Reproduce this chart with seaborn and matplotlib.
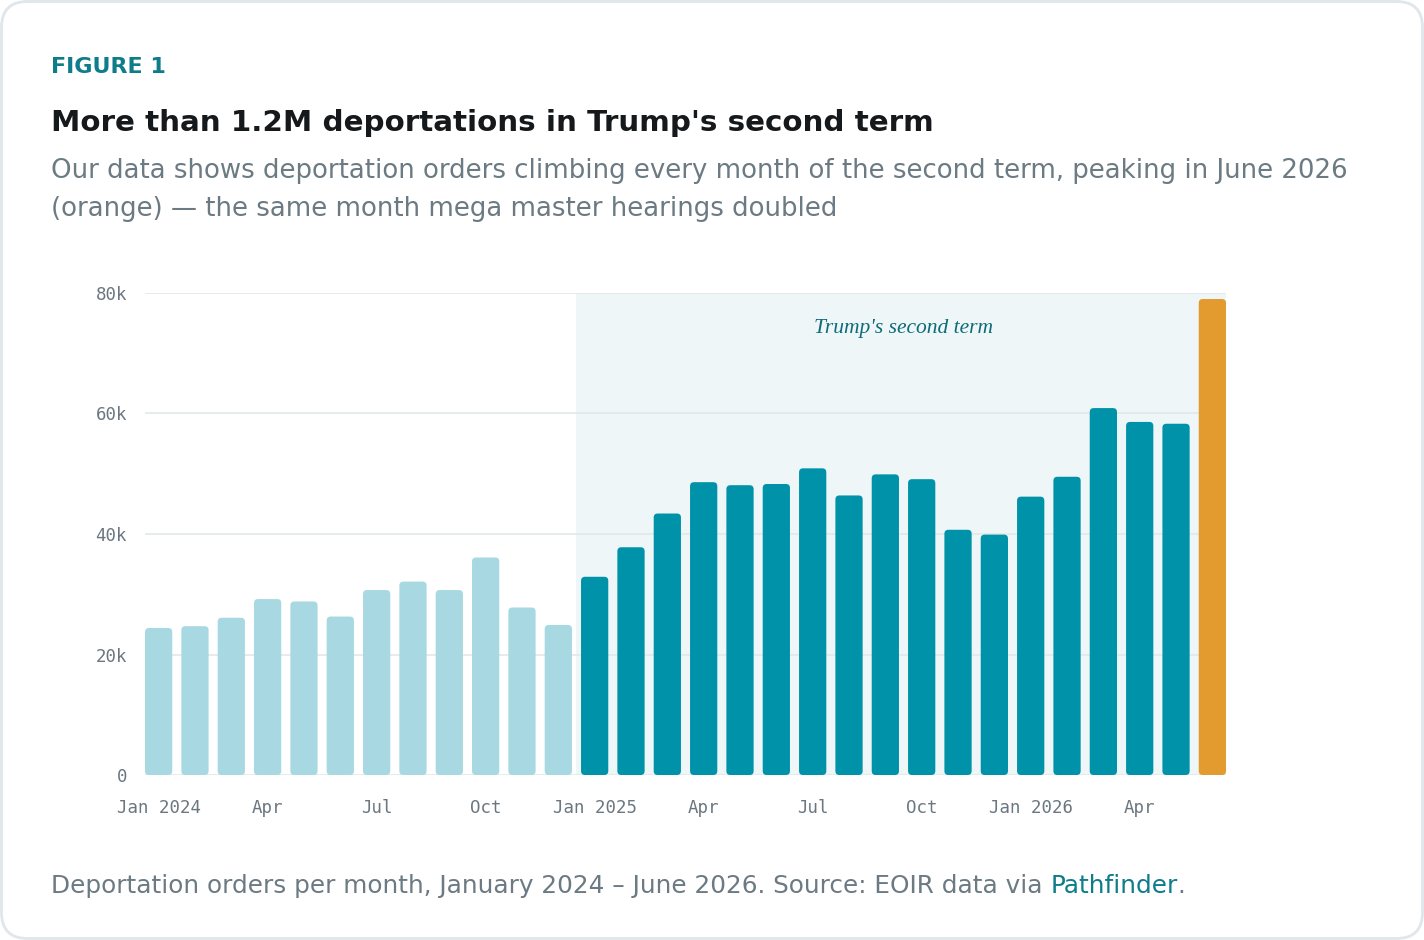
import numpy as np
import pandas as pd
import matplotlib
matplotlib.use("Agg")
import matplotlib.pyplot as plt
from matplotlib.patches import FancyBboxPatch
import seaborn as sns

# Monthly deportation orders, Jan 2024 - Jun 2026
months = [
    "Jan 2024", "Feb 2024", "Mar 2024", "Apr 2024", "May 2024", "Jun 2024",
    "Jul 2024", "Aug 2024", "Sep 2024", "Oct 2024", "Nov 2024", "Dec 2024",
    "Jan 2025", "Feb 2025", "Mar 2025", "Apr 2025", "May 2025", "Jun 2025",
    "Jul 2025", "Aug 2025", "Sep 2025", "Oct 2025", "Nov 2025", "Dec 2025",
    "Jan 2026", "Feb 2026", "Mar 2026", "Apr 2026", "May 2026", "Jun 2026",
]
orders = [
    24400, 24700, 26100, 29200, 28800, 26300, 30700, 32100, 30700, 36100, 27800, 24900,
    32900, 37800, 43400, 48600, 48100, 48300, 50900, 46400, 49900, 49100, 40700, 39900,
    46200, 49500, 60900, 58600, 58300, 79000,
]
period = ["before"] * 12 + ["second term"] * 17 + ["peak"]

tick_labels = ["Jan 2024", "Apr", "Jul", "Oct", "Jan 2025", "Apr", "Jul", "Oct", "Jan 2026", "Apr"]
tick_months = ["Jan 2024", "Apr 2024", "Jul 2024", "Oct 2024", "Jan 2025", "Apr 2025",
               "Jul 2025", "Oct 2025", "Jan 2026", "Apr 2026"]
y_ticks = [0, 20000, 40000, 60000, 80000]
y_labels = ["0", "20k", "40k", "60k", "80k"]

LIGHT = "#a8d9e2"
DARK = "#0092a8"
ORANGE = "#e39a2e"
SHADE = "#eef6f8"
GRID = "#e2e7ea"
TICK = "#6b7780"
TEAL = "#0f7c8c"
GREY = "#6c7a83"

df = pd.DataFrame({"month": months, "orders": orders, "period": period})

sns.set_theme(style="white")
plt.rcParams["font.family"] = ["DejaVu Sans"]

W, H = 1424, 940
fig = plt.figure(figsize=(W / 100, H / 100), dpi=100)
fig.patch.set_facecolor("white")

# card outline
card = FancyBboxPatch((1.5 / W, 1.5 / H), 1 - 3 / W, 1 - 3 / H,
                      boxstyle=f"round,pad=0,rounding_size={26 / W}",
                      mutation_aspect=W / H, transform=fig.transFigure,
                      facecolor="none", edgecolor="#e0e6e9", linewidth=2, zorder=-10)
fig.patches.append(card)

ax_l, ax_r, ax_t, ax_b = 145, 1226, 293, 775
ax = fig.add_axes([ax_l / W, 1 - ax_b / H, (ax_r - ax_l) / W, (ax_b - ax_t) / H])
ax.set_facecolor("none")

sns.barplot(data=df, x="month", y="orders", hue="period",
            palette={"before": LIGHT, "second term": DARK, "peak": ORANGE},
            dodge=False, width=0.75, saturation=1, legend=False, ax=ax, zorder=3)

xlim = (-0.375, len(months) - 1 + 0.375)
ax.set_xlim(xlim)
ax.set_ylim(0, 80000)

# round the bar corners
x_per_px = (xlim[1] - xlim[0]) / (ax_r - ax_l)
y_per_px = 80000 / (ax_b - ax_t)
for p in list(ax.patches):
    x, y, w, h = p.get_x(), p.get_y(), p.get_width(), p.get_height()
    fc = p.get_facecolor()
    p.remove()
    if np.isnan(h) or h == 0:
        continue
    ax.add_patch(FancyBboxPatch((x, y), w, h,
                                boxstyle=f"round,pad=0,rounding_size={4 * x_per_px}",
                                mutation_aspect=y_per_px / x_per_px,
                                facecolor=fc, edgecolor="none", zorder=3))

# second-term shading
ax.axvspan(11.5, xlim[1], color=SHADE, zorder=0, lw=0)
ax.text(20.5, 74100, "Trump's second term", ha="center", va="center",
        fontsize=15.5, style="italic", color="#0d6b7a",
        family=["Liberation Serif", "DejaVu Serif"], zorder=4)

for yv in y_ticks:
    ax.axhline(yv, color=GRID, lw=1.2, zorder=1)

for s in ax.spines.values():
    s.set_visible(False)
ax.set_xlabel("")
ax.set_ylabel("")
ax.set_xticks([months.index(m) for m in tick_months])
ax.set_xticklabels(tick_labels)
ax.set_yticks(y_ticks)
ax.set_yticklabels(y_labels)
ax.tick_params(axis="both", length=0, colors=TICK, labelsize=12.5)
ax.tick_params(axis="x", pad=17)
ax.tick_params(axis="y", pad=13)
for lab in ax.get_xticklabels() + ax.get_yticklabels():
    lab.set_family(["DejaVu Sans Mono"])
    lab.set_color(TICK)
ax.grid(False)

# header text
fig.text(51 / W, 1 - 67 / H, "FIGURE 1", fontsize=16, fontweight="bold",
         color=TEAL, va="center", ha="left")
fig.text(51 / W, 1 - 123 / H, "More than 1.2M deportations in Trump's second term",
         fontsize=21.2, fontweight="bold", color="#15191b", va="center", ha="left")
fig.text(51 / W, 1 - 171 / H,
         "Our data shows deportation orders climbing every month of the second term, peaking in June 2026",
         fontsize=18.7, color=GREY, va="center", ha="left")
fig.text(51 / W, 1 - 209 / H,
         "(orange) \u2014 the same month mega master hearings doubled",
         fontsize=18.7, color=GREY, va="center", ha="left")

# footer with link-coloured source
foot = fig.text(51 / W, 1 - 886 / H,
                "Deportation orders per month, January 2024 \u2013 June 2026. Source: EOIR data via ",
                fontsize=17.8, color=GREY, va="center", ha="left")
link = fig.text(0, 0, "Pathfinder", fontsize=17.8, color=TEAL, va="center", ha="left")
fig.canvas.draw()
bb = foot.get_window_extent()
link.set_position((bb.x1 / W, 1 - 886 / H))
fig.canvas.draw()
bb2 = link.get_window_extent()
fig.text(bb2.x1 / W, 1 - 886 / H, ".", fontsize=17.8, color=GREY, va="center", ha="left")

fig.savefig("out.png", dpi=100, facecolor="white")
